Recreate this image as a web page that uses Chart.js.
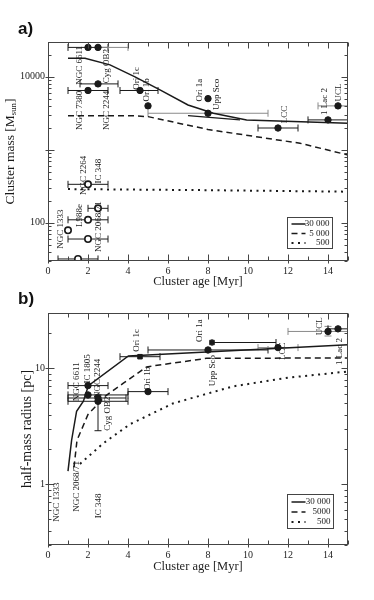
<!DOCTYPE html>
<html>
<head>
<meta charset="utf-8">
<script src="https://cdn.jsdelivr.net/npm/chart.js@4.4.1/dist/chart.umd.min.js"></script>
<style>
  body { margin: 0; background: #fff; }
  #wrap { position: relative; width: 374px; height: 600px; overflow: hidden; }
  canvas { position: absolute; left: 0; }
  .tag { position: absolute; left: 18px; font: bold 17px "Liberation Sans", Arial, sans-serif; color: #111; }
</style>
</head>
<body>
<div id="wrap">
  <canvas id="massCanvas" width="374" height="300" style="top:0"></canvas>
  <canvas id="radiusCanvas" width="374" height="300" style="top:300px"></canvas>
  <div class="tag" style="top:19px">a)</div>
  <div class="tag" style="top:289px">b)</div>
</div>
<script>
Chart.defaults.font.family = '"Liberation Serif", "DejaVu Serif", serif';
Chart.defaults.color = '#222';
const INK = '#1a1a1a';

// ---- shared x axis ----
const ageTicks = [ 0, 1, 2, 3, 4, 5, 6, 7, 8, 9, 10, 11, 12, 13, 14, 15 ];
const ageTickLabels = [ 0, 2, 4, 6, 8, 10, 12, 14 ];

// ---- panel a: cluster mass ----
const massTicks = [ 30, 40, 50, 60, 70, 80, 90, 100, 200, 300, 400, 500, 600, 700, 800, 900,
  1000, 2000, 3000, 4000, 5000, 6000, 7000, 8000, 9000, 10000, 20000, 30000 ];
const massMajor = [ 100, 1000, 10000 ];
const massTickLabels = [ 100, 10000 ];

const ageA = [ 2, 2.5, 2, 2.5, 4.6, 5, 8, 8, 11.5, 14, 14.5 ];
const massA = [ 25300, 25300, 6500, 8000, 6500, 4000, 5030, 3170, 1990, 2570, 4000 ];
const ageLoA = [ 1, 2.5, 1, 1.6, 3.6, null, null, 5, 10.5, 13, 13.5 ];
const ageHiA = [ 3, 4, 3, 3.5, 5.5, null, null, 11, 12.5, 15, 15.5 ];
const greyA = [ false, true, false, false, false, false, false, true, false, false, true ];

const ageOpenA = [ 2, 2.5, 2, 1, 2, 1.5 ];
const massOpenA = [ 337, 158, 110, 79, 60, 32 ];
const ageLoOpenA = [ 1, 2, 1, null, 1, 0.5 ];
const ageHiOpenA = [ 3, 3, 3, null, 3, 2.5 ];

const age30kA = [ 1, 1.85, 3.1, 4.35, 5.6, 7.0, 8.27, 9.93, 15 ];
const mass30kA = [ 18000, 18000, 14600, 10000, 6640, 4120, 3170, 2570, 2310 ];
const age5kA = [ 1, 4.2, 5, 8, 12.6, 15 ];
const mass5kA = [ 2940, 2940, 2850, 1900, 1230, 850 ];
const age500A = [ 1, 8, 15 ];
const mass500A = [ 290, 280, 267 ];
const ageSegA = [ 7, 9.6 ];
const massSegA = [ 2940, 2580 ];

const nameA = [ "NGC 7380", "NGC 6611", "NGC 2244", "Cyg OB2", "Ori 1c", "Ori 1b", "Ori 1a", "Upp Sco",
  "LCC", "1 Lac 2", "UCL", "NGC 2264", "IC 348", "L988e", "NGC 1333", "NGC 2068/71" ];
const nameAgeA = [ 1.6, 1.6, 2.93, 2.93, 4.43, 4.93, 7.6, 8.43, 11.85, 13.85, 14.52, 1.77, 2.52, 1.6, 0.63, 2.53 ];
const nameMassA = [ 1870, 7770, 1870, 8190, 6640, 4580, 4580, 3520, 2310, 3000, 4580, 240, 347, 88, 44, 40 ];

// ---- panel b: half-mass radius ----
const radiusTicks = [ 0.3, 0.4, 0.5, 0.6, 0.7, 0.8, 0.9, 1, 2, 3, 4, 5, 6, 7, 8, 9, 10, 20, 30 ];
const radiusMajor = [ 1, 10 ];
const radiusTickLabels = [ 1, 10 ];

const ageB = [ 2, 2, 2.5, 2.5, 4.6, 5, 8.2, 8, 11.5, 14, 14.5 ];
const radiusB = [ 7.1, 5.9, 5.55, 5.2, 12.6, 6.3, 16.7, 14.4, 15.1, 20.8, 21.9 ];
const markerB = [ 'circle', 'circle', 'circle', 'circle', 'rect', 'circle', 'rect', 'circle', 'circle', 'circle', 'circle' ];
const ageLoB = [ 1, 1, 1, 1, 3.6, 4, 8.2, 5, 10.5, 12, 14 ];
const ageHiB = [ 3, 4, 3.9, 4, 5.6, 6, 11.4, 11, 12.5, 15.5, 15.5 ];
const radiusLoB = [ null, null, null, 2.9, null, null, null, null, null, 19, null ];
const radiusHiB = [ null, null, null, 5.9, null, null, null, null, null, 23, null ];
const greyB = [ false, false, false, false, false, false, false, false, true, true, false ];

const age30kB = [ 1, 1.18, 1.43, 1.77, 2.02, 4.02, 15 ];
const radius30kB = [ 1.3, 2.4, 4.27, 5.2, 7.1, 12.8, 16 ];
const age5kB = [ 1.3, 1.45, 2.0, 2.85, 3.77, 4.93, 7.93, 15 ];
const radius5kB = [ 1.4, 2.4, 4.0, 5.74, 7.45, 10.3, 12.2, 12.3 ];
const age500B = [ 1.6, 2.75, 4.1, 6.27, 9.27, 12, 15 ];
const radius500B = [ 1.5, 2.25, 3.3, 5.0, 7.0, 8.3, 9.4 ];

const nameB = [ "NGC 6611", "IC 1805", "NGC 2244", "Cyg OB2", "Ori 1c", "Ori 1b", "Ori 1a", "Upp Sco",
  "LCC", "UCL", "1 Lac 2", "NGC 1333", "NGC 2068/71", "IC 348" ];
const nameAgeB = [ 1.45, 2.0, 2.5, 3.0, 4.45, 5.0, 7.6, 8.25, 11.75, 13.6, 14.6, 0.45, 1.45, 2.55 ];
const nameRadiusB = [ 5.2, 7.4, 5.55, 2.9, 13.9, 6.5, 16.9, 7.0, 11.8, 19.3, 10.7, 0.477, 0.58, 0.51 ];

const pts = ( xs, ys ) => xs.map( ( v, i ) => ( { x: v, y: ys[ i ] } ) );

function curve ( label, xs, ys, dash, width ) {
  return {
    type: 'scatter', label, data: pts( xs, ys ), showLine: true, legendRow: true,
    borderColor: INK, borderWidth: width, borderDash: dash, pointRadius: 0, fill: false,
    borderCapStyle: 'butt'
  };
}

function line ( ctx, x1, y1, x2, y2 ) {
  ctx.beginPath(); ctx.moveTo( x1, y1 ); ctx.lineTo( x2, y2 ); ctx.stroke();
}

const decor = {
  id: 'decor',
  beforeDatasetsDraw ( chart ) {
    const { ctx, chartArea: a, scales: { x, y } } = chart;
    ctx.save();
    ctx.beginPath(); ctx.rect( a.left, a.top, a.width, a.height ); ctx.clip();
    ctx.lineWidth = 1;
    chart.data.datasets.forEach( ds => {
      if ( !ds.xLo ) return;
      ds.data.forEach( ( p, i ) => {
        const px = x.getPixelForValue( p.x ), py = y.getPixelForValue( p.y );
        ctx.strokeStyle = ds.grey && ds.grey[ i ] ? '#8a8a8a' : INK;
        if ( ds.xLo[ i ] != null ) {
          const l = x.getPixelForValue( ds.xLo[ i ] ), r = x.getPixelForValue( ds.xHi[ i ] );
          line( ctx, l, py, r, py );
          line( ctx, l, py - 3.5, l, py + 3.5 );
          line( ctx, r, py - 3.5, r, py + 3.5 );
        }
        if ( ds.yLo && ds.yLo[ i ] != null ) {
          const b = y.getPixelForValue( ds.yLo[ i ] ), t = y.getPixelForValue( ds.yHi[ i ] );
          line( ctx, px, b, px, t );
          line( ctx, px - 3.5, b, px + 3.5, b );
          line( ctx, px - 3.5, t, px + 3.5, t );
        }
      } );
    } );
    ctx.restore();
  },
  afterDatasetsDraw ( chart, args, o ) {
    const { ctx, chartArea: a, scales: { x, y } } = chart;
    ctx.save();
    ctx.strokeStyle = '#444'; ctx.lineWidth = 1;
    const L = Math.round( a.left ) + 0.5, R = Math.round( a.right ) - 0.5;
    const T = Math.round( a.top ) + 0.5, B = Math.round( a.bottom ) - 0.5;
    ctx.strokeRect( L, T, R - L, B - T );

    // inward ticks on all four sides
    x.ticks.forEach( t => {
      const px = Math.round( x.getPixelForValue( t.value ) ) + 0.5;
      const major = ageTickLabels.includes( t.value );
      const len = major ? 6 : 4;
      line( ctx, px, B + ( major ? 3 : 0 ), px, B - len );
      line( ctx, px, T, px, T + len );
    } );
    y.ticks.forEach( t => {
      const py = Math.round( y.getPixelForValue( t.value ) ) + 0.5;
      const major = o.yMajor.includes( t.value );
      const len = major ? 6 : 3;
      line( ctx, L - ( major ? 3 : 0 ), py, L + len, py );
      line( ctx, R, py, R - len, py );
    } );

    // rotated cluster names
    ctx.fillStyle = INK;
    ctx.font = '9px "Liberation Serif"';
    ctx.textAlign = 'left'; ctx.textBaseline = 'middle';
    o.names.forEach( ( n, i ) => {
      ctx.save();
      ctx.translate( x.getPixelForValue( o.nameX[ i ] ), y.getPixelForValue( o.nameY[ i ] ) );
      ctx.rotate( -Math.PI / 2 );
      ctx.fillText( n, 0, 0 );
      ctx.restore();
    } );

    // legend box
    const lg = o.legend;
    const bx = Math.round( a.right - lg.right - lg.w ) + 0.5, by = Math.round( a.bottom - lg.bottom - lg.h ) + 0.5;
    ctx.strokeStyle = '#444';
    ctx.strokeRect( bx, by, lg.w, lg.h );
    ctx.textAlign = 'right';
    chart.data.datasets.filter( d => d.legendRow ).forEach( ( d, i ) => {
      const ry = by + lg.first + i * lg.step;
      ctx.save();
      ctx.strokeStyle = INK; ctx.lineWidth = d.borderWidth;
      ctx.setLineDash( d.borderDash || [] );
      line( ctx, bx + 4, ry, bx + 18, ry );
      ctx.restore();
      ctx.fillText( d.label, bx + lg.w - 3, ry );
    } );

    // y title with optional subscript
    const yt = o.yTitle;
    ctx.translate( yt.x, ( a.top + a.bottom ) / 2 );
    ctx.rotate( -Math.PI / 2 );
    ctx.textAlign = 'left';
    ctx.font = yt.size + 'px "Liberation Serif"';
    const w1 = ctx.measureText( yt.main ).width, w3 = ctx.measureText( yt.end ).width;
    ctx.font = ( yt.size * 0.65 ) + 'px "Liberation Serif"';
    const w2 = yt.sub ? ctx.measureText( yt.sub ).width : 0;
    const sx = -( w1 + w2 + w3 ) / 2;
    ctx.font = yt.size + 'px "Liberation Serif"';
    ctx.fillText( yt.main, sx, 0 );
    ctx.fillText( yt.end, sx + w1 + w2, 0 );
    if ( yt.sub ) {
      ctx.font = ( yt.size * 0.65 ) + 'px "Liberation Serif"';
      ctx.fillText( yt.sub, sx + w1, 3.5 );
    }
    ctx.restore();
  }
};

function makeChart ( id, c ) {
  return new Chart( document.getElementById( id ), {
    data: { datasets: c.datasets },
    options: {
      responsive: false, animation: false,
      layout: { padding: { left: 0, right: 26, top: c.top, bottom: 0 } },
      plugins: {
        legend: { display: false }, tooltip: { enabled: false },
        decor: c.decor
      },
      scales: {
        x: {
          type: 'linear', min: 0, max: 15,
          afterBuildTicks: s => { s.ticks = ageTicks.map( v => ( { value: v } ) ); },
          afterFit: s => { s.height = c.xHeight; },
          ticks: {
            autoSkip: false, maxRotation: 0, padding: 4, font: { size: 10 }, color: '#222',
            callback: v => ageTickLabels.includes( v ) ? String( v ) : ''
          },
          grid: { display: false, drawTicks: false },
          border: { display: false },
          title: {
            display: true, text: 'Cluster age [Myr]', font: { size: 12.5 }, color: '#222',
            padding: { top: 0, bottom: c.xTitlePad }
          }
        },
        y: {
          type: 'logarithmic', min: c.yMin, max: c.yMax,
          afterBuildTicks: s => { s.ticks = c.yTicks.map( v => ( { value: v } ) ); },
          afterFit: s => { s.width = 48; },
          ticks: {
            autoSkip: false, padding: 3, font: { size: 10 }, color: '#222',
            callback: v => c.yLabels.includes( v ) ? String( v ) : ''
          },
          grid: { display: false, drawTicks: false },
          border: { display: false }
        }
      }
    },
    plugins: [ decor ]
  } );
}

// panel a
makeChart( 'massCanvas', {
  top: 42, xHeight: 39, xTitlePad: 10.5,
  yMin: 30, yMax: 30000, yTicks: massTicks, yLabels: massTickLabels,
  decor: {
    yMajor: massMajor,
    names: nameA, nameX: nameAgeA, nameY: nameMassA,
    legend: { right: 16, bottom: 13, w: 45, h: 31, first: 6.5, step: 9.5 },
    yTitle: { x: 10, size: 13.5, main: 'Cluster mass [M', sub: 'sun', end: ']' }
  },
  datasets: [
    curve( '30 000', age30kA, mass30kA, [], 1.5 ),
    curve( '5 000', age5kA, mass5kA, [ 6, 4 ], 1.5 ),
    curve( '500', age500A, mass500A, [ 2, 4.5 ], 2 ),
    {
      type: 'scatter', label: 'segment', data: pts( ageSegA, massSegA ), showLine: true,
      borderColor: INK, borderWidth: 1.2, pointRadius: 0
    },
    {
      type: 'scatter', label: 'massive', data: pts( ageA, massA ),
      xLo: ageLoA, xHi: ageHiA, grey: greyA,
      pointRadius: 3.2, pointStyle: 'circle', backgroundColor: INK, borderColor: INK
    },
    {
      type: 'scatter', label: 'low mass', data: pts( ageOpenA, massOpenA ),
      xLo: ageLoOpenA, xHi: ageHiOpenA,
      pointRadius: 3.2, pointStyle: 'circle', backgroundColor: '#fff', borderColor: INK, borderWidth: 1.6
    }
  ]
} );

// panel b
makeChart( 'radiusCanvas', {
  top: 13, xHeight: 55, xTitlePad: 26,
  yMin: 0.3, yMax: 30, yTicks: radiusTicks, yLabels: radiusTickLabels,
  decor: {
    yMajor: radiusMajor,
    names: nameB, nameX: nameAgeB, nameY: nameRadiusB,
    legend: { right: 15, bottom: 17, w: 46, h: 34, first: 7.5, step: 10 },
    yTitle: { x: 27, size: 14, main: 'half-mass radius [pc]', sub: '', end: '' }
  },
  datasets: [
    curve( '30 000', age30kB, radius30kB, [], 1.5 ),
    curve( '5000', age5kB, radius5kB, [ 6, 4 ], 1.5 ),
    curve( '500', age500B, radius500B, [ 2, 4.5 ], 2 ),
    {
      type: 'scatter', label: 'clusters', data: pts( ageB, radiusB ),
      xLo: ageLoB, xHi: ageHiB, yLo: radiusLoB, yHi: radiusHiB, grey: greyB,
      pointRadius: 3.2, pointStyle: markerB, backgroundColor: INK, borderColor: INK
    }
  ]
} );
</script>
</body>
</html>
